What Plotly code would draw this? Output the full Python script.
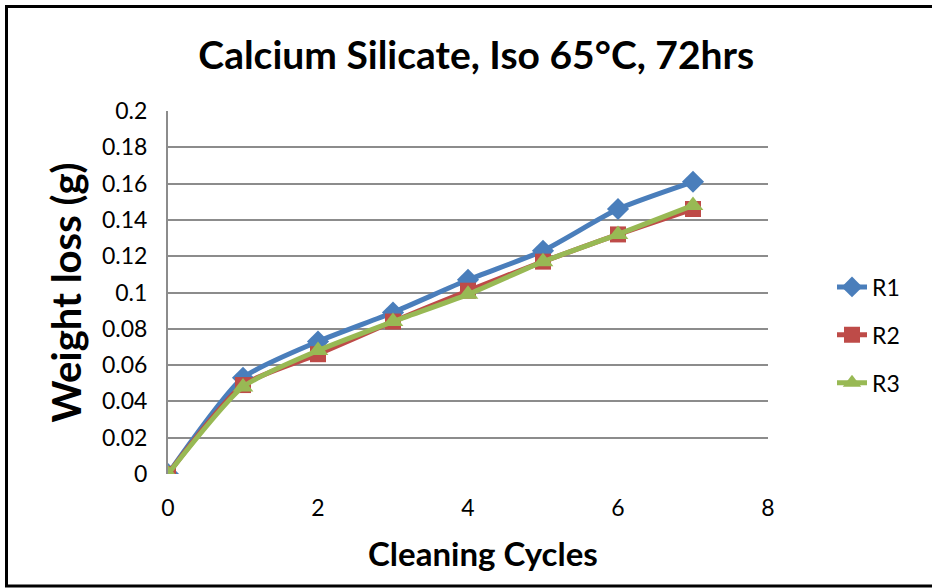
import plotly.graph_objects as go

cycles = [0, 1, 2, 3, 4, 5, 6, 7]
r1 = [0.0, 0.053, 0.073, 0.089, 0.107, 0.123, 0.146, 0.161]
r2 = [0.0, 0.049, 0.066, 0.084, 0.101, 0.117, 0.132, 0.146]
r3 = [0.0, 0.048, 0.068, 0.084, 0.099, 0.117, 0.132, 0.148]
names = ["R1", "R2", "R3"]
colors = ["#4a7ebb", "#be4b48", "#98b954"]
symbols = ["diamond", "square", "triangle-up"]
msizes = [17, 16, 18]

FONT = "Lato"
fig = go.Figure()
for name, ys, c, s, ms in zip(names, [r1, r2, r3], colors, symbols, msizes):
    fig.add_trace(go.Scatter(x=cycles, y=ys, name=name, legendgroup=name, mode="lines+markers",
                             line=dict(color=c, width=5, shape="spline", smoothing=0.6),
                             marker=dict(symbol=s, size=ms, color=c)))

L, R, T, B = 168, 164, 111, 114
W, H = 932, 588
pw, ph = W - L - R, H - T - B

def px(x):
    return (x - L) / pw

def py(y):
    return (T + ph - y) / ph

fig.update_layout(
    width=W, height=H,
    margin=dict(l=L, r=R, t=T, b=B),
    paper_bgcolor="white", plot_bgcolor="white",
    font=dict(family=FONT, color="black", size=23),
    title=dict(text="<b>Calcium Silicate, Iso 65°C, 72hrs</b>", x=0.511, xanchor="center",
               y=1 - 55 / H, yanchor="middle", font=dict(size=39, family=FONT)),
    xaxis=dict(range=[0, 8], tickvals=[0, 2, 4, 6, 8], showgrid=False, zeroline=False,
               showline=False, ticks="", tickfont=dict(size=23), ticklabelstandoff=18),
    yaxis=dict(range=[0, 0.2], tickvals=[0, 0.02, 0.04, 0.06, 0.08, 0.1, 0.12, 0.14, 0.16, 0.18, 0.2],
               ticktext=["0", "0.02", "0.04", "0.06", "0.08", "0.1", "0.12", "0.14", "0.16", "0.18", "0.2"],
               showgrid=True, gridcolor="#8c8c8c", gridwidth=2, zeroline=False,
               showline=True, linecolor="#8c8c8c", linewidth=2, ticks="", tickfont=dict(size=23),
               ticklabelstandoff=14,
               title=dict(text="<b>Weight loss (g)</b>", font=dict(size=40), standoff=8)),
    legend=dict(x=px(832), y=py(335), xanchor="left", yanchor="middle", font=dict(size=23),
                tracegroupgap=15, bgcolor="rgba(0,0,0,0)"),
    showlegend=True,
    annotations=[dict(text="<b>Cleaning Cycles</b>", xref="paper", yref="paper", x=px(483), y=py(553),
                      xanchor="center", yanchor="middle", showarrow=False, font=dict(size=33))],
    shapes=[dict(type="rect", xref="paper", yref="paper", x0=px(6.5), x1=px(940), y0=py(586), y1=py(6.5),
                 line=dict(color="black", width=3), layer="below")],
)
fig.write_html("out.html", config={"displayModeBar": False},
               post_script="document.body.style.margin='0';document.body.style.overflow='hidden';")
